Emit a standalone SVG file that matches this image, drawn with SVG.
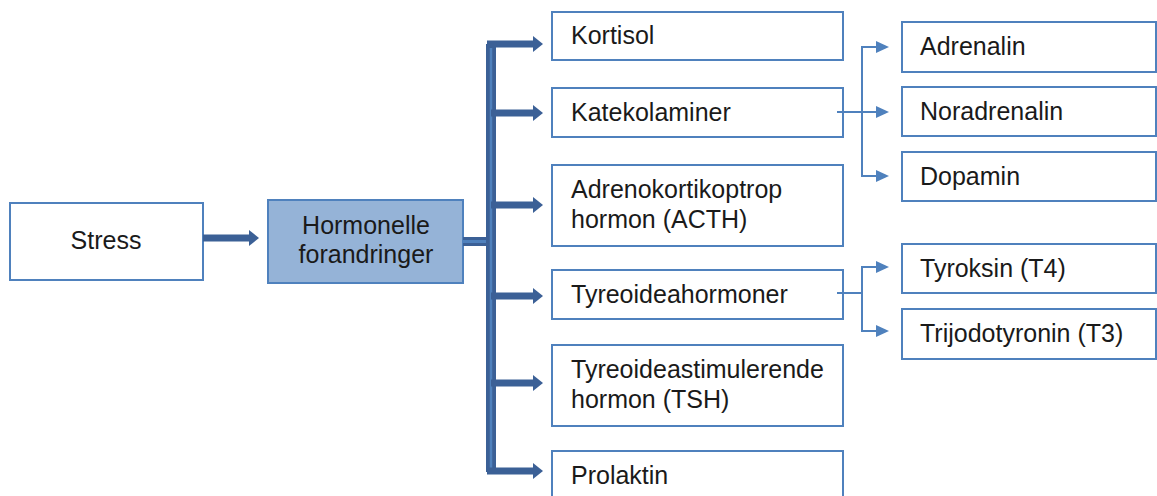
<svg xmlns="http://www.w3.org/2000/svg" width="1157" height="496" viewBox="0 0 1157 496">
  <style>
    .box { fill: #ffffff; stroke: #4f81bd; stroke-width: 2; }
    .hl { fill: #95b3d7; stroke: #4f81bd; stroke-width: 2; }
    .t { font-family: "Liberation Sans", Arial, sans-serif; font-size: 25px; fill: #1a1a1a; }
    .thick { stroke: #3b6096; stroke-width: 7; fill: none; }
    .thin { stroke: #4f81bd; stroke-width: 2; fill: none; }
  </style>
  <defs>
    <!-- heads start where the line ends, so the stroke never covers the tip -->
    <marker id="bigArrow" markerUnits="userSpaceOnUse" markerWidth="12" markerHeight="16" refX="0" refY="8" orient="auto">
      <path d="M0,0 L10,8 L0,16 Z" fill="#3b6096"/>
    </marker>
    <marker id="smallArrow" markerUnits="userSpaceOnUse" markerWidth="14" markerHeight="12" refX="0" refY="6" orient="auto">
      <path d="M0,0 L13,6 L0,12 Z" fill="#4f81bd"/>
    </marker>
  </defs>

  <g id="stress">
    <rect class="box" x="10" y="203" width="193" height="77"/>
    <text class="t" x="106" y="249" text-anchor="middle">Stress</text>
  </g>

  <g id="hormonelle">
    <rect class="hl" x="268" y="200" width="195" height="83"/>
    <text class="t" x="366" y="234" text-anchor="middle">Hormonelle</text>
    <text class="t" x="366" y="263" text-anchor="middle">forandringer</text>
  </g>

  <g id="kortisol">
    <rect class="box" x="552" y="12" width="291" height="48"/>
    <text class="t" x="571" y="44">Kortisol</text>
  </g>

  <g id="katekolaminer">
    <rect class="box" x="552" y="88" width="291" height="49"/>
    <text class="t" x="571" y="121">Katekolaminer</text>
  </g>

  <g id="acth">
    <rect class="box" x="552" y="165" width="291" height="81"/>
    <text class="t" x="571" y="198">Adrenokortikoptrop</text>
    <text class="t" x="571" y="228">hormon (ACTH)</text>
  </g>

  <g id="tyreoideahormoner">
    <rect class="box" x="552" y="270" width="291" height="49"/>
    <text class="t" x="571" y="303">Tyreoideahormoner</text>
  </g>

  <g id="tsh">
    <rect class="box" x="552" y="345" width="291" height="81"/>
    <text class="t" x="571" y="378">Tyreoideastimulerende</text>
    <text class="t" x="571" y="408">hormon (TSH)</text>
  </g>

  <g id="prolaktin">
    <rect class="box" x="552" y="451" width="291" height="60"/>
    <text class="t" x="571" y="484">Prolaktin</text>
  </g>

  <g id="adrenalin">
    <rect class="box" x="902" y="22" width="254" height="50"/>
    <text class="t" x="920" y="55">Adrenalin</text>
  </g>

  <g id="noradrenalin">
    <rect class="box" x="902" y="87" width="254" height="49"/>
    <text class="t" x="920" y="120">Noradrenalin</text>
  </g>

  <g id="dopamin">
    <rect class="box" x="902" y="152" width="254" height="49"/>
    <text class="t" x="920" y="185">Dopamin</text>
  </g>

  <g id="tyroksin">
    <rect class="box" x="902" y="244" width="254" height="49"/>
    <text class="t" x="920" y="277">Tyroksin (T4)</text>
  </g>

  <g id="trijodotyronin">
    <rect class="box" x="902" y="309" width="254" height="50"/>
    <text class="t" x="920" y="342">Trijodotyronin (T3)</text>
  </g>

  <g id="connectors">
    <!-- stress to hormonal changes -->
    <line class="thick" x1="203" y1="238" x2="249" y2="238" marker-end="url(#bigArrow)"/>
    <!-- double link into the bus -->
    <line x1="463" y1="241.5" x2="488" y2="241.5" stroke="#3b6096" stroke-width="9"/>
    <line x1="463" y1="241.5" x2="488" y2="241.5" stroke="#4f81bd" stroke-width="3"/>
    <!-- vertical bus -->
    <path d="M491,44 L491,472" stroke="#3b6096" stroke-width="10" fill="none" stroke-linejoin="round"/>
    <path d="M491,48 L491,468" stroke="#4f81bd" stroke-width="2.5" fill="none"/>
    <!-- branches -->
    <path class="thick" d="M487,44 L533,44" marker-end="url(#bigArrow)"/>
    <path class="thick" d="M491,113 L533,113" marker-end="url(#bigArrow)"/>
    <path class="thick" d="M491,205 L533,205" marker-end="url(#bigArrow)"/>
    <path class="thick" d="M491,296 L533,296" marker-end="url(#bigArrow)"/>
    <path class="thick" d="M491,383 L533,383" marker-end="url(#bigArrow)"/>
    <path class="thick" d="M487,471 L533,471" marker-end="url(#bigArrow)"/>
    <!-- catecholamine split -->
    <line class="thin" x1="837" y1="112" x2="876" y2="112" marker-end="url(#smallArrow)"/>
    <path class="thin" d="M876,47 L862,47 L862,176 L876,176" marker-end="url(#smallArrow)"/>
    <line class="thin" x1="862" y1="47" x2="876" y2="47" marker-end="url(#smallArrow)"/>
    <!-- thyroid hormone split -->
    <line class="thin" x1="837" y1="293" x2="862" y2="293"/>
    <path class="thin" d="M876,267 L862,267 L862,331 L876,331" marker-end="url(#smallArrow)"/>
    <line class="thin" x1="862" y1="267" x2="876" y2="267" marker-end="url(#smallArrow)"/>
  </g>
</svg>
